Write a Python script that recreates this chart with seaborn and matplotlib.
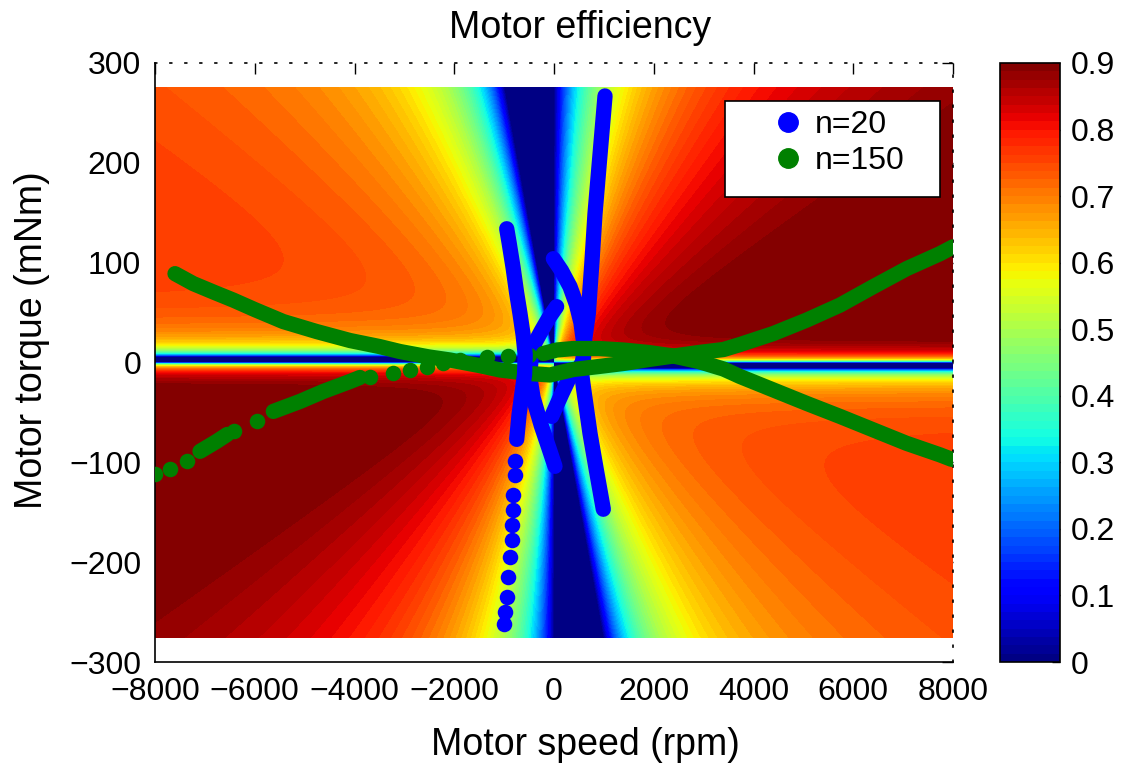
import numpy as np
import pandas as pd
import matplotlib
matplotlib.use("Agg")
import matplotlib.pyplot as plt
import seaborn as sns
from matplotlib.lines import Line2D
from matplotlib.patches import Rectangle
from matplotlib.ticker import FuncFormatter

nan = np.nan

# ---------------- data ----------------
x_ticks = [-8000, -6000, -4000, -2000, 0, 2000, 4000, 6000, 8000]
y_ticks = [-300, -200, -100, 0, 100, 200, 300]
cbar_ticks = [0, 0.1, 0.2, 0.3, 0.4, 0.5, 0.6, 0.7, 0.8, 0.9]

# efficiency-map model parameters (estimated from the map)
map_speed_range = [-8000, 8000]
map_torque_range = [-275, 275]
copper_coef = 3.6        # rpm per mNm where copper loss equals mech power
friction_motor = 2.5     # mNm
gen_deadband = 6.0       # mNm
gen_eff_scale = 0.80
gen_shape = 1.3
eff_max = 0.9

# n=20 trajectories (speed rpm, torque mNm)
blue_left_speed = [-948, -900, -820, -750, -682, -620, -578, -590, -640, -700, -748]
blue_left_torque = [134, 120, 95, 70, 49, 28, 8, -12, -30, -52, -77]
blue_dots_speed = [-782, -786, -816, -820, -848, -852, -882, -916, -950, -982, -1012]
blue_dots_torque = [-99, -113, -133, -148, -163, -178, -195, -215, -235, -250, -262]
blue_carc_speed = [53, -100, -250, -380, -460, -485, -420, -250, -100, 20]
blue_carc_torque = [56, 45, 32, 20, 5, -15, -35, -64, -86, -104]
blue_rarc_speed = [-13, 150, 321, 450, 540, 600, 590, 470, 321, 150, -47]
blue_rarc_torque = [104, 92, 76, 58, 40, 18, 2, -8, -14, -32, -54]
blue_right_speed = [1023, 960, 900, 822, 760, 688, 620, 585, 545, 590, 722, 850, 989]
blue_right_torque = [267, 230, 195, 149, 100, 49, 25, 5, -8, -25, -71, -108, -147]

# n=150 trajectories
green_u_speed = [-7599, -7232, -6800, -6430, -6000, -5428, -4759, -4090, -3500, -3088,
                 -2500, -2085, -1500, -1083, -500, -80, 387, 900, 1390, 1900, 2396,
                 2900, 3398, 3729, 4398, 5067, 5734, 6402, 7071, 7739, 8006]
green_u_torque = [89, 79, 70, 62.5, 53, 41, 31, 22, 16, 11,
                  5.5, 2.5, -3, -7.5, -11, -12.5, -7, -4, -1, 3, 6.5,
                  10, 13, 18, 29, 42.5, 57.5, 76, 94, 109, 116]
green_n_speed = [-7098, -6764, -6550, nan, -5628, -5093, -4626, -4090, -3890, nan,
                 -214, 53, 387, 900, 1390, 1900, 2396, 2900, 3398, 3729, 4398, 5067,
                 5734, 6402, 7071, 7739, 7973]
green_n_torque = [-89, -79, -72, nan, -49, -39, -29, -19, -15, nan,
                  9, 12.5, 14, 14, 12.5, 10, 6.5, 1, -6.5, -14, -27.5, -41,
                  -54, -67.5, -81, -92.5, -97]
green_dots_speed = [-8000, -7700, -7365, -6420, -5962, -3690, -3222, -2887, -2553,
                    -2219, -1885, -1350, -916, -500]
green_dots_torque = [-112, -107, -99, -69, -59, -15, -11, -7.5, -5,
                     -1, 3, 6, 6.5, 7.5]

legend_labels = ["n=20", "n=150"]
blue = (0, 0, 1)
green = (0, 0.5, 0)

# ---------------- style ----------------
sns.set_theme(style="white")
plt.rcParams["font.family"] = ["Liberation Sans", "DejaVu Sans"]
plt.rcParams["axes.unicode_minus"] = True
plt.rcParams["text.color"] = "black"
plt.rcParams["axes.labelcolor"] = "black"
plt.rcParams["xtick.color"] = "black"
plt.rcParams["ytick.color"] = "black"

W, H = 1127, 765
fig = plt.figure(figsize=(W / 100, H / 100), dpi=100)
ax = fig.add_axes([155 / W, 1 - 662 / H, 798 / W, 599 / H])
cax = fig.add_axes([1000 / W, 1 - 662 / H, 60 / W, 599 / H])

# ---------------- efficiency map ----------------
sp = np.linspace(map_speed_range[0], map_speed_range[1], 1601)
tq = np.linspace(map_torque_range[0], map_torque_range[1], 1101)
S, T = np.meshgrid(sp, tq)
P = S * T
with np.errstate(divide="ignore", invalid="ignore"):
    ratio = copper_coef * np.abs(T) / np.abs(S)          # copper loss / mech power
    eta_m = 1.0 / (1.0 + ratio + friction_motor / np.abs(T))
    fric_g = np.clip(1 - (gen_deadband / np.abs(T)) ** 1.2, 0, 1)
    eta_g = gen_eff_scale * np.clip(1 - np.clip(ratio, 0, None) ** gen_shape, 0, 1) * fric_g
    Z = np.where(P > 0, eta_m, eta_g)
Z = np.nan_to_num(Z, nan=0.0, posinf=0.0, neginf=0.0)
Z = np.clip(Z, 0, eff_max - 1e-6)

levels = np.linspace(0, eff_max, 73)
cf = ax.contourf(S, T, Z, levels=levels, cmap="jet", zorder=1)

# ---------------- trajectories ----------------
lw = 11
ms_area = 125


def stroke(xs, ys, color, z):
    ax.plot(xs, ys, color=color, lw=lw, solid_capstyle="round",
            solid_joinstyle="round", zorder=z)


for xs, ys in [(blue_carc_speed, blue_carc_torque),
               (blue_rarc_speed, blue_rarc_torque),
               (blue_right_speed, blue_right_torque)]:
    stroke(xs, ys, blue, 3)

stroke(green_u_speed, green_u_torque, green, 4)
stroke(green_n_speed, green_n_torque, green, 4)
gdots = pd.DataFrame({"speed": green_dots_speed, "torque": green_dots_torque})
sns.scatterplot(data=gdots, x="speed", y="torque", ax=ax, color=green, s=ms_area,
                linewidth=0, zorder=4, legend=False)

stroke(blue_left_speed, blue_left_torque, blue, 5)
bdots = pd.DataFrame({"speed": blue_dots_speed, "torque": blue_dots_torque})
sns.scatterplot(data=bdots, x="speed", y="torque", ax=ax, color=blue, s=ms_area,
                linewidth=0, zorder=5, legend=False)

# ---------------- axes ----------------
ax.set_xlim(-8000, 8000)
ax.set_ylim(-300, 300)
ax.set_xticks(x_ticks)
ax.set_yticks(y_ticks)
ax.tick_params(axis="both", which="both", direction="in", length=8, width=1,
               top=True, right=True, labelsize=23, colors="black")
ax.tick_params(axis="x", pad=11)
ax.tick_params(axis="y", pad=10)
for s in ["left", "bottom"]:
    ax.spines[s].set_color("black")
    ax.spines[s].set_linewidth(1.2)
for s in ["top", "right"]:
    ax.spines[s].set_color("black")
    ax.spines[s].set_linewidth(1.2)
    ax.spines[s].set_linestyle((0, (1, 8)))
ax.set_xlabel("Motor speed (rpm)", fontsize=27, color="black")
ax.xaxis.set_label_coords(0.539, -0.108)
ax.set_ylabel("Motor torque (mNm)", fontsize=27, color="black")
ax.yaxis.set_label_coords(-0.132, 0.538)
ax.set_title("Motor efficiency", fontsize=27, pad=18, x=0.533, color="black")

# legend box drawn at its place, entries inside
ax.add_patch(Rectangle((0.7143, 0.7763), 0.2694, 0.1603, transform=ax.transAxes,
                       facecolor="white", edgecolor="black", lw=1.2, zorder=9))
handles = [Line2D([], [], ls="", marker="o", markersize=14, markerfacecolor=c,
                  markeredgecolor=c) for c in (blue, green)]
leg = ax.legend(handles, legend_labels, loc="upper left",
                bbox_to_anchor=(0.753, 0.922), borderaxespad=0, borderpad=0,
                fontsize=23, frameon=False, handlelength=2.0,
                handletextpad=-0.16, labelspacing=0.2)
leg.set_zorder(10)

# ---------------- colorbar ----------------
cb = fig.colorbar(cf, cax=cax, ticks=cbar_ticks)
cb.outline.set_edgecolor("black")
cb.outline.set_linewidth(1.2)
cax.yaxis.set_ticks_position("right")
cax.tick_params(direction="in", length=6, width=1, labelsize=23, pad=8,
                colors="black")
cax.yaxis.set_major_formatter(FuncFormatter(lambda v, _: "0" if abs(v) < 1e-9 else f"{v:.1f}"))
cax.set_ylim(0, eff_max)

fig.savefig("out.png", dpi=100, facecolor="white")
